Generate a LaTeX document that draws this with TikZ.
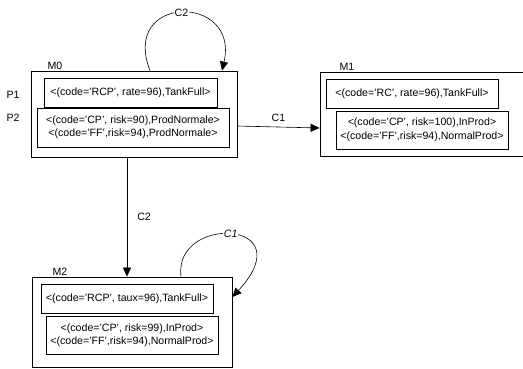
\documentclass[tikz,border=0pt]{standalone}
\usepackage{fontspec}
\setmainfont{Liberation Sans}
\usetikzlibrary{arrows.meta}
\begin{document}
\begin{tikzpicture}[x=1pt, y=-1pt, font=\fontsize{10.6}{13.5}\selectfont,
    place/.style={draw, line width=0.8pt, inner sep=0pt},
    token/.style={draw, line width=0.8pt, align=center, inner sep=0pt},
    tag/.style={inner sep=0pt},
    arc/.style={line width=0.6pt, -{Triangle[length=9pt,width=8pt]}}]
      \useasboundingbox (0,0) rectangle (523,368);

      \node (M0) at (134,114) [place, minimum width=206pt, minimum height=86pt] {};
      \node (M0P1) at (130.5,92.5) [token, minimum width=173pt, minimum height=29pt] {<(code='RCP', rate=96),TankFull>};
      \node (M0P2) at (133,127.5) [token, minimum width=192pt, minimum height=39pt] {<(code='CP', risk=90),ProdNormale>\\<(code='FF',risk=94),ProdNormale>};

      \node (M1) at (440,114) [place, minimum width=240pt, minimum height=84pt] {};
      \node (M1P1) at (412,93.5) [token, minimum width=172pt, minimum height=29pt] {<(code='RC', rate=96),TankFull>};
      \node (M1P2) at (422,130) [token, minimum width=172pt, minimum height=38pt] {<(code='CP', risk=100),InProd>\\<(code='FF',risk=94),NormalProd>};

      \node (M2) at (132,322) [place, minimum width=200pt, minimum height=90pt] {};
      \node (M2P1) at (127,298.5) [token, minimum width=172pt, minimum height=29pt] {<(code='RCP', taux=96),TankFull>};
      \node (M2P2) at (132,335) [token, minimum width=172pt, minimum height=38pt] {<(code='CP', risk=99),InProd>\\<(code='FF',risk=94),NormalProd>};

      \node (lM0) at (55,66) [tag] {M0};
      \node (lM1) at (347,67) [tag] {M1};
      \node (lM2) at (60,272) [tag] {M2};
      \node (lP1) at (13,95) [tag] {P1};
      \node (lP2) at (13,118) [tag] {P2};

      \draw[arc] ([yshift=-12pt]M0.east) -- node[tag, above=5pt] {C1} ([yshift=-14pt]M1.west);
      \draw[arc] ([xshift=-7pt]M0.south) -- node[tag, right=10pt] {C2} ([xshift=-5pt]M2.north);
      \draw[arc] ([xshift=16pt]M0.north) .. controls +(-30,-77) and +(18,-77) .. node[tag, fill=white, inner sep=1pt] {C2} ([xshift=88pt]M0.north);
      \draw[arc] ([xshift=49pt]M2.north) .. controls +(-8,-62) and +(72,-78) .. node[tag, fill=white, inner sep=1pt, font=\fontsize{10.6}{13.5}\selectfont\itshape] {C1} ([yshift=25pt]M2.east);
\end{tikzpicture}
\end{document}
